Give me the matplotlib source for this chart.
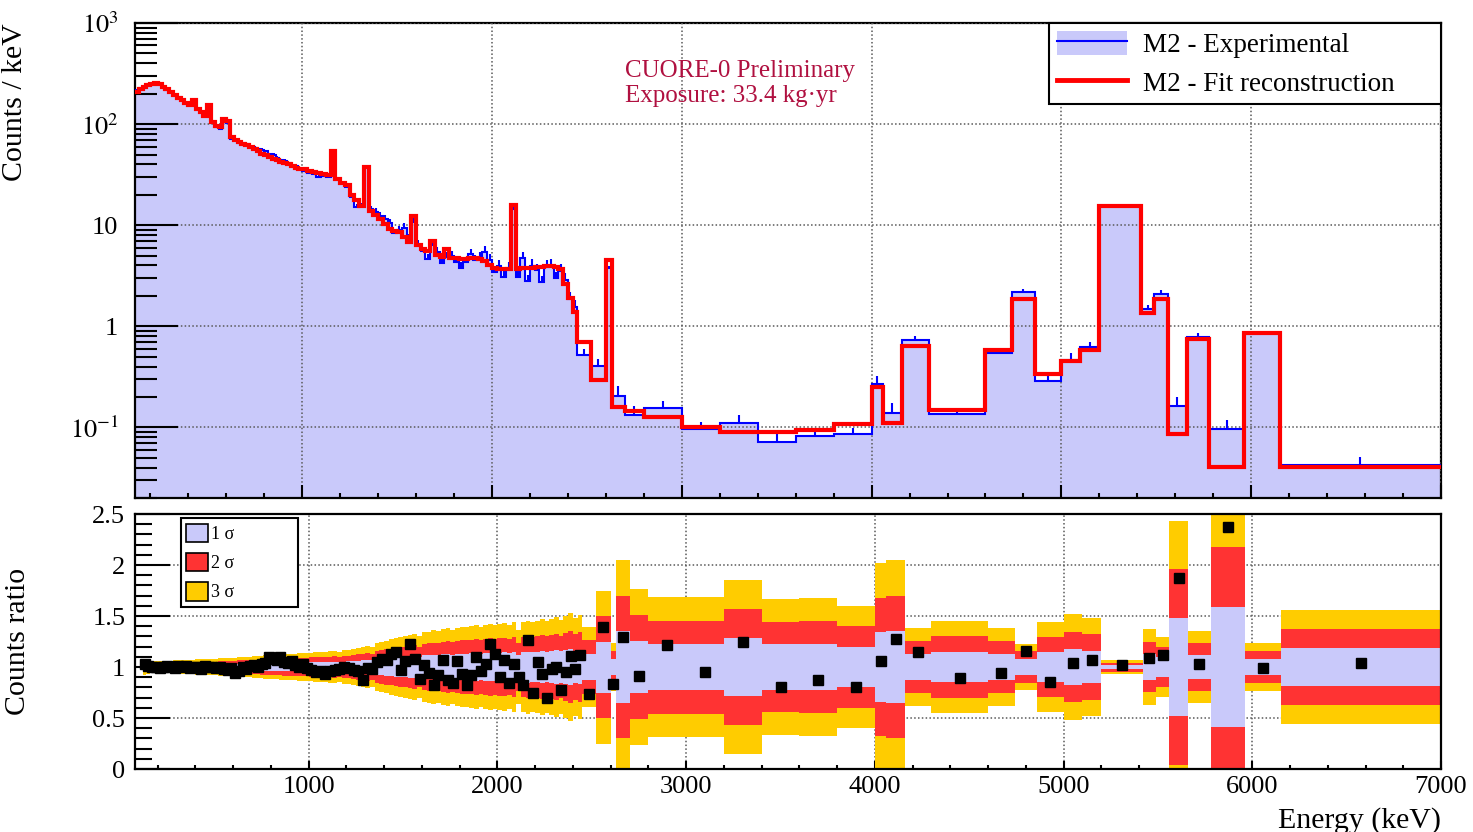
import matplotlib
matplotlib.use('Agg')
import matplotlib.pyplot as plt
import numpy as np
from matplotlib.patches import Patch
from matplotlib.lines import Line2D
from matplotlib.ticker import (LogLocator, MultipleLocator, FixedLocator,
                               FixedFormatter, NullFormatter, FormatStrFormatter)

plt.rcParams['font.family'] = ['Liberation Serif', 'DejaVu Serif']
plt.rcParams['mathtext.fontset'] = 'stix'

# ---- binning (keV) ----
low_edges = np.arange(120, 1001, 20)       # 20 keV bins, 120-1000
mid_edges = np.arange(1025, 2451, 25)      # 25 keV bins, 1000-2450
high_edges = np.array([2520, 2600, 2630, 2700, 2800, 3000, 3200, 3400, 3600,
                       3800, 4000, 4060, 4160, 4300, 4600, 4740, 4860, 5000,
                       5100, 5200, 5420, 5490, 5560, 5660, 5780, 5960, 6150, 7000])

# ---- fit reconstruction (counts / keV) ----
fit_low = [210, 223, 235, 244, 252, 254, 247, 233, 221, 208,
           194, 183, 174, 163, 155, 174, 141, 132, 121, 155,
           104, 96, 93, 112, 108, 74, 70, 66, 64, 62,
           60, 57, 54, 51, 50, 47, 45, 44, 42, 41,
           40, 38.5, 37, 36]
fit_mid = [35.6, 34.4, 33.3, 32.6, 32.3, 31.2, 54, 28.4, 26.3, 24.9,
           19.9, 17.6, 15.6, 38, 13.7, 12.6, 11.5, 10.2, 9.2, 8.7,
           8.5, 7.7, 6.8, 12.3, 6.3, 5.86, 5.6, 7.0, 5.1, 4.9,
           5.8, 4.7, 4.7, 4.65, 4.65, 4.7, 4.7, 4.6, 4.4, 4.05,
           3.8, 3.7, 3.7, 3.7, 16, 3.72, 3.75, 3.78, 3.8, 3.85,
           3.9, 3.95, 3.95, 3.88, 3.7, 2.6, 1.9, 1.38]
fit_high = [0.70, 0.294, 4.5, 0.16, 0.145, 0.128, 0.100, 0.089, 0.089, 0.0935,
            0.107, 0.252, 0.110, 0.634, 0.150, 0.58, 1.88, 0.34, 0.45, 0.58,
            15.4, 1.36, 1.88, 0.0866, 0.755, 0.0405, 0.86, 0.0405]

# ---- counts ratio experimental / fit ----
ratio_low = [1.03, 1.01, 1.00, 1.00, 0.99, 1.00, 1.01, 1.00, 0.99, 1.01,
             1.00, 1.01, 0.99, 1.00, 1.00, 0.98, 1.01, 1.00, 1.00, 0.99,
             1.00, 0.98, 0.97, 0.99, 0.94, 0.96, 1.00, 0.98, 1.01, 1.02,
             1.00, 1.03, 1.04, 1.10, 1.08, 1.07, 1.10, 1.05, 1.04, 1.06,
             1.02, 1.00, 1.03, 0.99]
ratio_mid = [0.97, 0.95, 0.96, 0.93, 0.96, 0.97, 0.98, 1.00, 0.99, 0.97,
             0.96, 0.87, 0.99, 0.98, 1.05, 1.08, 1.07, 1.13, 1.15, 0.97,
             1.06, 1.23, 1.08, 0.88, 1.02, 0.94, 0.82, 0.92, 1.07, 0.87,
             0.84, 1.06, 0.93, 0.82, 0.92, 1.10, 0.96, 1.03, 1.23, 1.13,
             0.90, 1.07, 0.84, 1.03, 0.90, 0.82, 1.26, 0.75, 1.05, 0.93,
             0.70, 0.98, 1.00, 0.77, 0.95, 1.11, 0.98, 1.12]
ratio_high = [0.74, 1.39, 0.83, 1.29, 0.91, 1.22, 0.955, 1.25, 0.80, 0.877,
              0.80, 1.056, 1.27, 1.15, 0.897, 0.94, 1.155, 0.853, 1.036, 1.072,
              1.015, 1.09, 1.115, 1.87, 1.03, 2.377, 0.995, 1.043]

# ---- relative 1 sigma band width per bin ----
sigma_low = [0.025, 0.022, 0.020, 0.020, 0.020, 0.020, 0.021, 0.021, 0.022, 0.022,
             0.023, 0.023, 0.024, 0.024, 0.025, 0.025, 0.026, 0.026, 0.027, 0.027,
             0.028, 0.029, 0.030, 0.030, 0.031, 0.032, 0.033, 0.034, 0.034, 0.035,
             0.036, 0.037, 0.038, 0.038, 0.039, 0.040, 0.041, 0.042, 0.042, 0.043,
             0.044, 0.045, 0.045, 0.046]
sigma_mid = [0.047, 0.048, 0.049, 0.050, 0.051, 0.052, 0.050, 0.054, 0.056, 0.058,
             0.062, 0.066, 0.070, 0.066, 0.078, 0.082, 0.086, 0.090, 0.094, 0.097,
             0.100, 0.104, 0.108, 0.100, 0.114, 0.116, 0.120, 0.118, 0.124, 0.126,
             0.122, 0.128, 0.132, 0.130, 0.134, 0.136, 0.132, 0.138, 0.142, 0.136,
             0.140, 0.144, 0.138, 0.146, 0.120, 0.148, 0.152, 0.146, 0.150, 0.156,
             0.150, 0.158, 0.162, 0.154, 0.166, 0.175, 0.160, 0.170]
sigma_high = [0.13, 0.25, 0.08, 0.35, 0.255, 0.228, 0.228, 0.283, 0.221, 0.227,
              0.199, 0.339, 0.35, 0.126, 0.15, 0.128, 0.0765, 0.148, 0.172, 0.16,
              0.022, 0.124, 0.098, 0.478, 0.118, 0.59, 0.08, 0.186]

# ---- relative error bar of the experimental spectrum (wide bins) ----
experr_high = [0.14, 0.155, 0.05, 0.256, 0.236, 0.18, 0.19, 0.19, 0.23, 0.21,
               0.155, 0.21, 0.256, 0.11, 0.12, 0.10, 0.08, 0.18, 0.18, 0.12,
               0.02, 0.095, 0.10, 0.24, 0.095, 0.24, 0.05, 0.20]

edges = np.concatenate([low_edges, mid_edges, high_edges])
fit = np.array(fit_low + fit_mid + fit_high)
ratio = np.array(ratio_low + ratio_mid + ratio_high)
sigma = np.array(sigma_low + sigma_mid + sigma_high)
experr = np.array(sigma_low + sigma_mid + experr_high)
centers = 0.5 * (edges[:-1] + edges[1:])
# experimental spectrum: ratio is defined as experimental / fit
exper = fit * ratio

lav = '#c9c9fa'
red2 = '#ff3333'
yel3 = '#ffcc00'

fig = plt.figure(figsize=(14.73, 8.32), dpi=100)
ax1 = fig.add_axes([0.0917, 0.4014, 0.8866, 0.5709])
ax2 = fig.add_axes([0.0917, 0.0757, 0.8866, 0.3065])

# ---------------- upper panel ----------------
ax1.stairs(exper, edges, baseline=1e-3, fill=True, color=lav, zorder=1)
ax1.stairs(exper, edges, baseline=None, color='blue', lw=1.5, zorder=2.6)
ax1.errorbar(centers, exper, yerr=[np.zeros_like(exper), exper * experr],
             fmt='none', ecolor='blue', elinewidth=1.5, zorder=2.6)
ax1.stairs(fit, edges, baseline=None, color='red', lw=3, zorder=3)

ax1.set_yscale('log')
ax1.set_xlim(120, 7000)
ax1.set_ylim(0.02, 1000)
ax1.set_axisbelow(False)
ax1.grid(True, which='major', ls=(0, (1, 1.5)), color='0.35', lw=1.1)
ax1.yaxis.set_major_locator(FixedLocator([0.1, 1, 10, 100, 1000]))
ax1.yaxis.set_major_formatter(FixedFormatter(['$10^{-1}$', '1', '10', '$10^{2}$', '$10^{3}$']))
ax1.yaxis.set_minor_locator(LogLocator(base=10, subs=np.arange(2, 10), numticks=20))
ax1.yaxis.set_minor_formatter(NullFormatter())
ax1.xaxis.set_major_locator(MultipleLocator(1000))
ax1.xaxis.set_minor_locator(MultipleLocator(200))
ax1.tick_params(axis='x', labelbottom=False)
ax1.tick_params(axis='y', which='major', direction='in', length=31, width=1.5,
                labelsize=19, pad=12)
ax1.tick_params(axis='y', which='minor', direction='in', length=16, width=1.5)
ax1.tick_params(axis='x', which='major', direction='in', length=9.5, width=1.5)
ax1.tick_params(axis='x', which='minor', direction='in', length=3.6, width=1.5)
for s in ax1.spines.values():
    s.set_linewidth(1.6)
ax1.set_ylabel('Counts / keV', fontsize=21.5, loc='top')
ax1.yaxis.set_label_coords(-0.082, 1.0)

h_exp = (Patch(facecolor=lav, edgecolor='none'), Line2D([], [], color='blue', lw=1.5))
h_fit = Line2D([], [], color='red', lw=3.5)
leg1 = ax1.legend([h_exp, h_fit], ['M2 - Experimental', 'M2 - Fit reconstruction'],
                  loc='upper left', bbox_to_anchor=(0.6998, 1.0, 0.3002, 0.0),
                  mode='expand', fontsize=19.5, frameon=True, fancybox=False,
                  edgecolor='black', framealpha=1, borderpad=0.28, labelspacing=0.42,
                  handlelength=2.6, handleheight=1.0, handletextpad=0.6,
                  borderaxespad=0)
leg1.get_frame().set_linewidth(1.5)

fig.text(0.4243, 0.928, 'CUORE-0 Preliminary\nExposure: 33.4 kg\u00b7yr',
         color='#b01040', fontsize=18, va='top', ha='left', linespacing=1.2)

# ---------------- lower panel ----------------
for k, col in ((3, yel3), (2, red2), (1, lav)):
    ax2.stairs(1 + k * sigma, edges, baseline=1 - k * sigma, fill=True,
               color=col, zorder=1)
ax2.plot(centers, ratio, 's', color='black', ms=7, zorder=4)

ax2.set_xlim(80, 7000)
ax2.set_ylim(0, 2.5)
ax2.set_axisbelow(True)
ax2.grid(True, which='major', ls=(0, (1, 1.5)), color='0.35', lw=1.1)
ax2.xaxis.set_major_locator(MultipleLocator(1000))
ax2.xaxis.set_minor_locator(MultipleLocator(200))
ax2.yaxis.set_major_locator(MultipleLocator(0.5))
ax2.yaxis.set_minor_locator(MultipleLocator(0.1))
ax2.yaxis.set_major_formatter(FormatStrFormatter('%g'))
ax2.tick_params(axis='y', which='major', direction='in', length=25, width=1.5,
                labelsize=19, pad=7)
ax2.tick_params(axis='y', which='minor', direction='in', length=12, width=1.5)
ax2.tick_params(axis='x', which='major', direction='in', length=5.5, width=1.5,
                labelsize=19, pad=5)
ax2.tick_params(axis='x', which='minor', direction='in', length=3, width=1.5)
for s in ax2.spines.values():
    s.set_linewidth(1.6)
ax2.set_ylabel('Counts ratio', fontsize=21.5)
ax2.yaxis.set_label_coords(-0.080, 0.5)
ax2.set_xlabel('Energy (keV)', fontsize=21.5, loc='right')
ax2.xaxis.set_label_coords(1.0, -0.15)

band_handles = [Patch(facecolor=c, edgecolor='black', lw=1.2) for c in (lav, red2, yel3)]
leg2 = ax2.legend(band_handles, ['1 \u03c3', '2 \u03c3', '3 \u03c3'],
                  loc='upper left', bbox_to_anchor=(0.0352, 0.984, 0.0896, 0.0),
                  mode='expand', fontsize=13, frameon=True, fancybox=False,
                  edgecolor='black', framealpha=1, borderpad=0.3, labelspacing=0.55,
                  handlelength=1.2, handleheight=1.2, handletextpad=0.15,
                  borderaxespad=0)
leg2.get_frame().set_linewidth(1.5)

fig.savefig('out.png', dpi=100)
